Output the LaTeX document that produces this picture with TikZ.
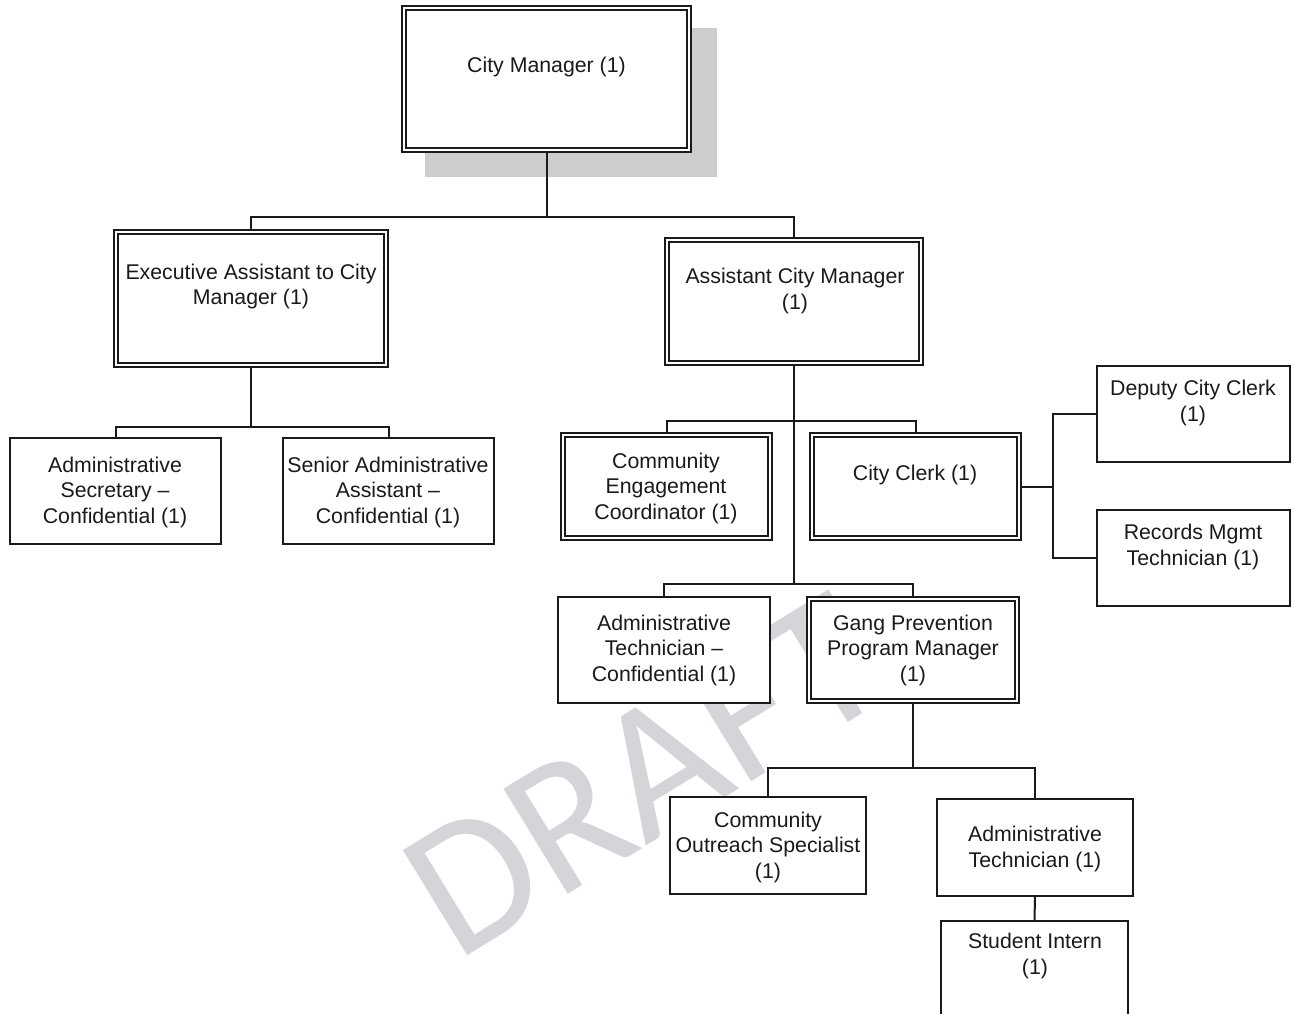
\documentclass[tikz,border=0pt]{standalone}
\usepackage{fontspec}
\setmainfont{Liberation Sans}
\newfontfamily\wmfont{Carlito}
\pgfdeclarelayer{wm}
\pgfdeclarelayer{bg}
\pgfsetlayers{wm,bg,main}
\definecolor{wmgray}{RGB}{212,213,216}
\definecolor{shadowgray}{RGB}{204,205,207}
\definecolor{ink}{RGB}{26,26,26}
\newcommand\innerframe[1]{\draw[innerline] ([shift={(5pt,-5pt)}]#1.north west) rectangle ([shift={(-5pt,5pt)}]#1.south east);}
\begin{document}
\begin{tikzpicture}[x=1pt,y=-1pt,
  box/.style={draw=ink, line width=1.7, fill=white, inner sep=0, rectangle},
  innerline/.style={draw=ink, line width=1.7},
  lbl/.style={align=center, inner sep=0, text=ink, font=\fontsize{21.3}{25.5}\selectfont},
  conn/.style={draw=ink, line width=2.0},
  wmtext/.style={text=wmgray, inner sep=0, font=\wmfont\fontsize{192}{192}\selectfont}]
\useasboundingbox (0,0) rectangle (1294,1013);
\clip (0,0) rectangle (1294,1013);

% watermark
\begin{pgfonlayer}{wm}
\node[wmtext, rotate=31.5, anchor=base west] (draft) at (456,963) {DRAFT};
\end{pgfonlayer}

% boxes
\node[box, minimum width=289, minimum height=146] (cm)   at (546.5,79)   {};
\node[box, minimum width=274, minimum height=137] (ea)   at (251,298.5)  {};
\node[box, minimum width=258, minimum height=127] (acm)  at (794,301.5)  {};
\node[box, minimum width=211, minimum height=106] (as)   at (115.5,491)  {};
\node[box, minimum width=211, minimum height=106] (sa)   at (388.5,491)  {};
\node[box, minimum width=211, minimum height=107] (cec)  at (666.5,486.5) {};
\node[box, minimum width=211, minimum height=107] (cc)   at (915.5,486.5) {};
\node[box, minimum width=193, minimum height=96]  (dcc)  at (1193.5,414) {};
\node[box, minimum width=193, minimum height=96]  (rmt)  at (1193.5,558) {};
\node[box, minimum width=212, minimum height=106] (atc)  at (664,650)    {};
\node[box, minimum width=212, minimum height=106] (gppm) at (913,650)    {};
\node[box, minimum width=196, minimum height=97]  (cos)  at (768,845.5)  {};
\node[box, minimum width=196, minimum height=97]  (at)   at (1035,847.5) {};
\node[box, minimum width=187, minimum height=114] (si)   at (1034.5,978) {};

% double frames
\innerframe{cm}
\innerframe{ea}
\innerframe{acm}
\innerframe{cec}
\innerframe{cc}
\innerframe{gppm}

% shadow behind the top box
\begin{pgfonlayer}{bg}
\fill[shadowgray] ([shift={(24pt,-23pt)}]cm.north west) rectangle ([shift={(25pt,-24pt)}]cm.south east);
\end{pgfonlayer}

% labels
\node[lbl] (cmT)   at (546.5,67)  {City Manager (1)};
\node[lbl] (eaT)   at (251,286.5) {Executive Assistant to City\\Manager (1)};
\node[lbl] (acmT)  at (795,291)   {Assistant City Manager\\(1)};
\node[lbl] (asT)   at (115,492)   {Administrative\\Secretary --\\Confidential (1)};
\node[lbl] (saT)   at (388,492)   {Senior Administrative\\Assistant --\\Confidential (1)};
\node[lbl] (cecT)  at (666,488)   {Community\\Engagement\\Coordinator (1)};
\node[lbl] (ccT)   at (915,475)   {City Clerk (1)};
\node[lbl] (dccT)  at (1193,403)  {Deputy City Clerk\\(1)};
\node[lbl] (rmtT)  at (1193,547)  {Records Mgmt\\Technician (1)};
\node[lbl] (atcT)  at (664,650)   {Administrative\\Technician --\\Confidential (1)};
\node[lbl] (gppmT) at (913,650)   {Gang Prevention\\Program Manager\\(1)};
\node[lbl] (cosT)  at (768,847)   {Community\\Outreach Specialist\\(1)};
\node[lbl] (atT)   at (1035,849)  {Administrative\\Technician (1)};
\node[lbl] (siT)   at (1035,956)  {Student Intern\\(1)};

% connectors
\coordinate (j1) at (546.5,217);
\coordinate (j2) at (251,427);
\coordinate (j3) at (794,421);
\coordinate (j4) at (794,584);
\coordinate (j5) at (1053,486.5);
\coordinate (j6) at (913,768);
\begin{pgfonlayer}{bg}
\draw[conn] (cm.south) -- (j1);
\draw[conn] (ea.north) |- (j1) -| (acm.north);
\draw[conn] (ea.south) -- (j2);
\draw[conn] (as.north) |- (j2) -| (sa.north);
\draw[conn] (acm.south) -- (j4);
\draw[conn] (cec.north) |- (j3) -| (cc.north);
\draw[conn] (atc.north) |- (j4) -| (gppm.north);
\draw[conn] (cc.east) -- (j5);
\draw[conn] (dcc.west) -| (j5) |- (rmt.west);
\draw[conn] (gppm.south) -- (j6);
\draw[conn] (cos.north) |- (j6) -| (at.north);
\draw[conn] (at.south) -- (si.north);
\end{pgfonlayer}
\end{tikzpicture}
\end{document}
